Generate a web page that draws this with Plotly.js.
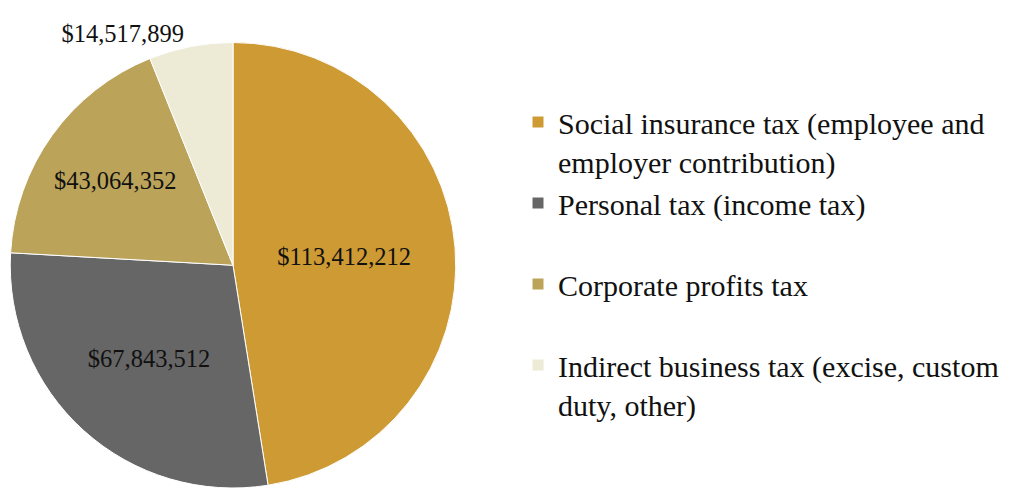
<!DOCTYPE html>
<html>
<head>
<meta charset="utf-8">
<script src="https://cdn.plot.ly/plotly-3.0.1.min.js"></script>
<style>html,body{margin:0;padding:0;background:#fff;}#chart{width:1018px;height:492px;}</style>
</head>
<body>
<div id="chart"></div>
<script>
var categories = [
  "Social insurance tax (employee and<br>employer contribution)",
  "Personal tax (income tax)<br>&nbsp;",
  "Corporate profits tax<br>&nbsp;",
  "Indirect business tax (excise, custom<br>duty, other)"
];
var values = [113412212, 67843512, 43064352, 14517899];
var colors = ["#CD9A34", "#666666", "#BBA45A", "#EDEAD6"];
var labelPositions = ["inside", "inside", "inside", "outside"];

var serif = "Liberation Serif, Times New Roman, serif";

var trace = {
  type: "pie",
  labels: categories,
  values: values,
  sort: false,
  direction: "clockwise",
  rotation: 0,
  marker: { colors: colors, line: { color: "#ffffff", width: 1 } },
  texttemplate: "$%{value:,.0f}",
  textposition: labelPositions,
  insidetextorientation: "horizontal",
  textfont: { family: serif, size: 24.5, color: "#111111" },
  outsidetextfont: { family: serif, size: 24.5, color: "#111111" },
  domain: { x: [10/1018, 456/1018], y: [4/492, 449.5/492] },
  hoverinfo: "label+value",
  automargin: false
};

var layout = {
  width: 1018,
  height: 492,
  margin: { l: 0, r: 0, t: 0, b: 0 },
  paper_bgcolor: "#ffffff",
  showlegend: true,
  legend: {
    x: 518/1018,
    y: 1 - 96/492,
    xanchor: "left",
    yanchor: "top",
    valign: "top",
    font: { family: serif, size: 30, color: "#111111" },
    bgcolor: "rgba(0,0,0,0)"
  },
  font: { family: serif }
};

Plotly.newPlot("chart", [trace], layout, { displayModeBar: false, staticPlot: true });
</script>
</body>
</html>
